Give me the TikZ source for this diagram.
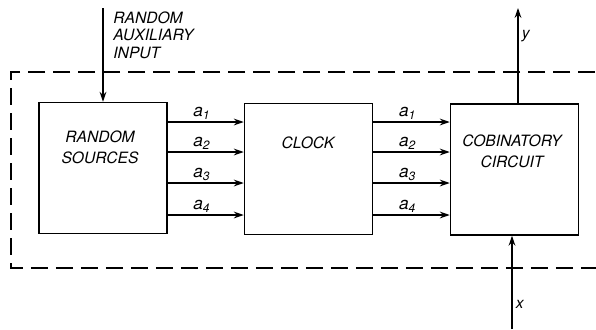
\documentclass[tikz,border=0pt]{standalone}
\usepackage{fontspec}
\setmainfont{TeX Gyre Heros}
\usetikzlibrary{arrows.meta}

\begin{document}
\begin{tikzpicture}[x=0.5pt,y=-0.5pt,
  box/.style={draw,line width=0.75pt,minimum width=64pt,minimum height=65.5pt,inner sep=0pt},
  txt/.style={font=\fontsize{7.8}{10.5}\selectfont\itshape,align=center},
  lbl/.style={font=\fontsize{7.8}{8.75}\selectfont\itshape,inner sep=1.5pt},
  sig/.style={lbl,font=\fontsize{8.6}{9}\selectfont\itshape,above,pos=0.45,inner sep=1pt},
  arr/.style={line width=0.75pt,-{Stealth[length=5pt,width=3.4pt]}},
  dashbox/.style={line width=0.8pt,dash pattern=on 8.5pt off 4pt}]
\useasboundingbox (0,0) rectangle (596,329);
\clip (0,0) rectangle (596,329);

% enclosure
\draw[dashbox] (620,72) -- (11,72) -- (11,268) -- (620,268);

% blocks
\node[box] (rs)  at (103,168)   {};
\node[box] (clk) at (308.5,169) {};
\node[box] (cc)  at (514.5,169.5) {};
\node[txt] (rstxt)  at (100,147) {RANDOM\\SOURCES};
\node[txt] (clktxt) at (308,143) {CLOCK};
\node[txt] (cctxt)  at (512,151) {COBINATORY\\CIRCUIT};

% random sources -> clock
\draw[arr] (rs.east |- 0,122) -- node[sig] {a\textsubscript{1}} (clk.west |- 0,122);
\draw[arr] (rs.east |- 0,152) -- node[sig] {a\textsubscript{2}} (clk.west |- 0,152);
\draw[arr] (rs.east |- 0,183) -- node[sig] {a\textsubscript{3}} (clk.west |- 0,183);
\draw[arr] (rs.east |- 0,215) -- node[sig] {a\textsubscript{4}} (clk.west |- 0,215);

% clock -> combinatory circuit
\draw[arr] (clk.east |- 0,122) -- node[sig] {a\textsubscript{1}} (cc.west |- 0,122);
\draw[arr] (clk.east |- 0,152) -- node[sig] {a\textsubscript{2}} (cc.west |- 0,152);
\draw[arr] (clk.east |- 0,183) -- node[sig] {a\textsubscript{3}} (cc.west |- 0,183);
\draw[arr] (clk.east |- 0,215) -- node[sig] {a\textsubscript{4}} (cc.west |- 0,215);

% inputs and output
\coordinate (aux) at (103,8);
\draw[arr] (aux) -- (rs.north);
\node[lbl,anchor=north west,align=left] (auxlbl) at (110,8) {RANDOM\\AUXILIARY\\INPUT};

\coordinate (yout) at (518,8);
\draw[arr] (cc.north -| yout) -- node[lbl,right,pos=0.7] {y} (yout);

\coordinate (xin) at (512,329);
\draw[arr] (xin) -- node[lbl,right,pos=0.26] {x} (cc.south -| xin);
\end{tikzpicture}
\end{document}
